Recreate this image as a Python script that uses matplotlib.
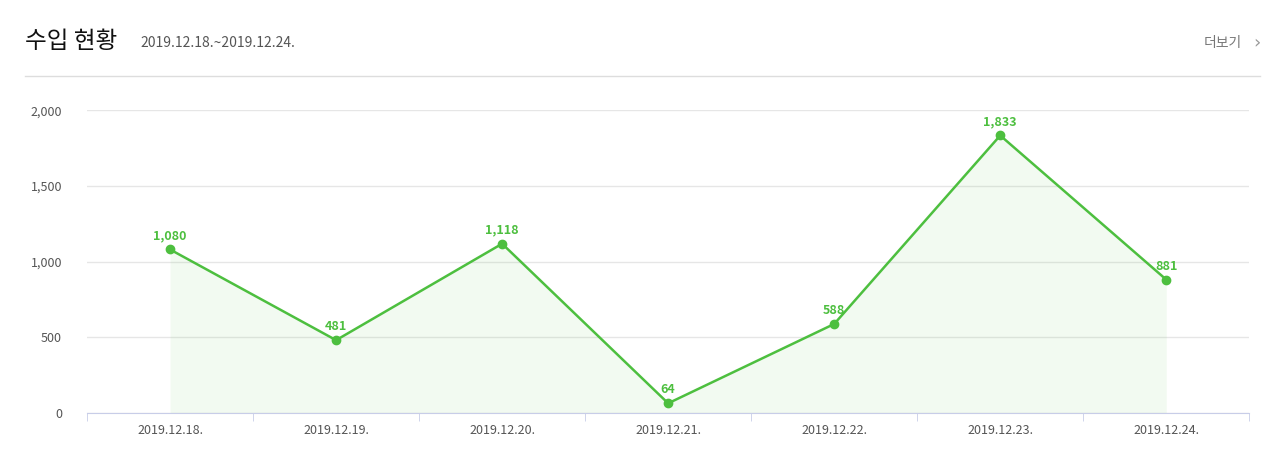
import matplotlib.pyplot as plt
import numpy as np

plt.rcParams["font.family"] = ["Noto Sans CJK KR", "DejaVu Sans"]

dates = ["2019.12.18.", "2019.12.19.", "2019.12.20.", "2019.12.21.",
         "2019.12.22.", "2019.12.23.", "2019.12.24."]
income = [1080, 481, 1118, 64, 588, 1833, 881]
y_ticks = [0, 500, 1000, 1500, 2000]

GREEN = "#4dbf3f"

fig = plt.figure(figsize=(12.8, 4.63), dpi=100)
ax = fig.add_axes([0.068, 0.108, 0.908, 0.654])

x = np.arange(len(dates))
ax.fill_between(x, income, 0, color=GREEN, alpha=0.07, linewidth=0)
ax.plot(x, income, color=GREEN, linewidth=1.8, marker="o", markersize=6, zorder=3)
for xi, v in zip(x, income):
    ax.annotate(f"{v:,}", (xi, v), xytext=(0, 5), textcoords="offset points",
                ha="center", va="bottom", fontsize=9, fontweight="bold", color=GREEN)

ax.set_xlim(-0.5, len(dates) - 0.5)
ax.set_ylim(0, 2000)
ax.set_yticks(y_ticks)
ax.set_yticklabels([f"{v:,}" for v in y_ticks])
ax.set_xticks(x)
ax.set_xticklabels(dates)
ax.set_xticks(np.arange(len(dates) + 1) - 0.5, minor=True)
ax.tick_params(axis="x", which="major", length=0, pad=8, labelsize=9, labelcolor="#555555")
ax.tick_params(axis="x", which="minor", length=6, color="#c8cde8")
ax.tick_params(axis="y", length=0, pad=18, labelsize=9, labelcolor="#555555")
ax.grid(axis="y", color="#e6e6e6", linewidth=1)
ax.set_axisbelow(True)
for side in ("top", "right", "left"):
    ax.spines[side].set_visible(False)
ax.spines["bottom"].set_color("#c8cde8")

fig.text(25 / 1280, 1 - 42 / 463, "수입 현황", fontsize=17, va="center", ha="left", color="#111111")
fig.text(140 / 1280, 1 - 43 / 463, "2019.12.18.~2019.12.24.", fontsize=10, va="center",
         ha="left", color="#555555")
fig.text(1242 / 1280, 1 - 43 / 463, "더보기", fontsize=10, va="center", ha="right", color="#777777")
fig.text(1253 / 1280, 1 - 43 / 463, "›", fontsize=13, va="center", ha="left", color="#999999",
         family=["DejaVu Sans"])
fig.add_artist(plt.Line2D([25 / 1280, 1260 / 1280], [1 - 76 / 463] * 2, color="#dddddd", linewidth=1))

fig.savefig("out.png", dpi=100)
